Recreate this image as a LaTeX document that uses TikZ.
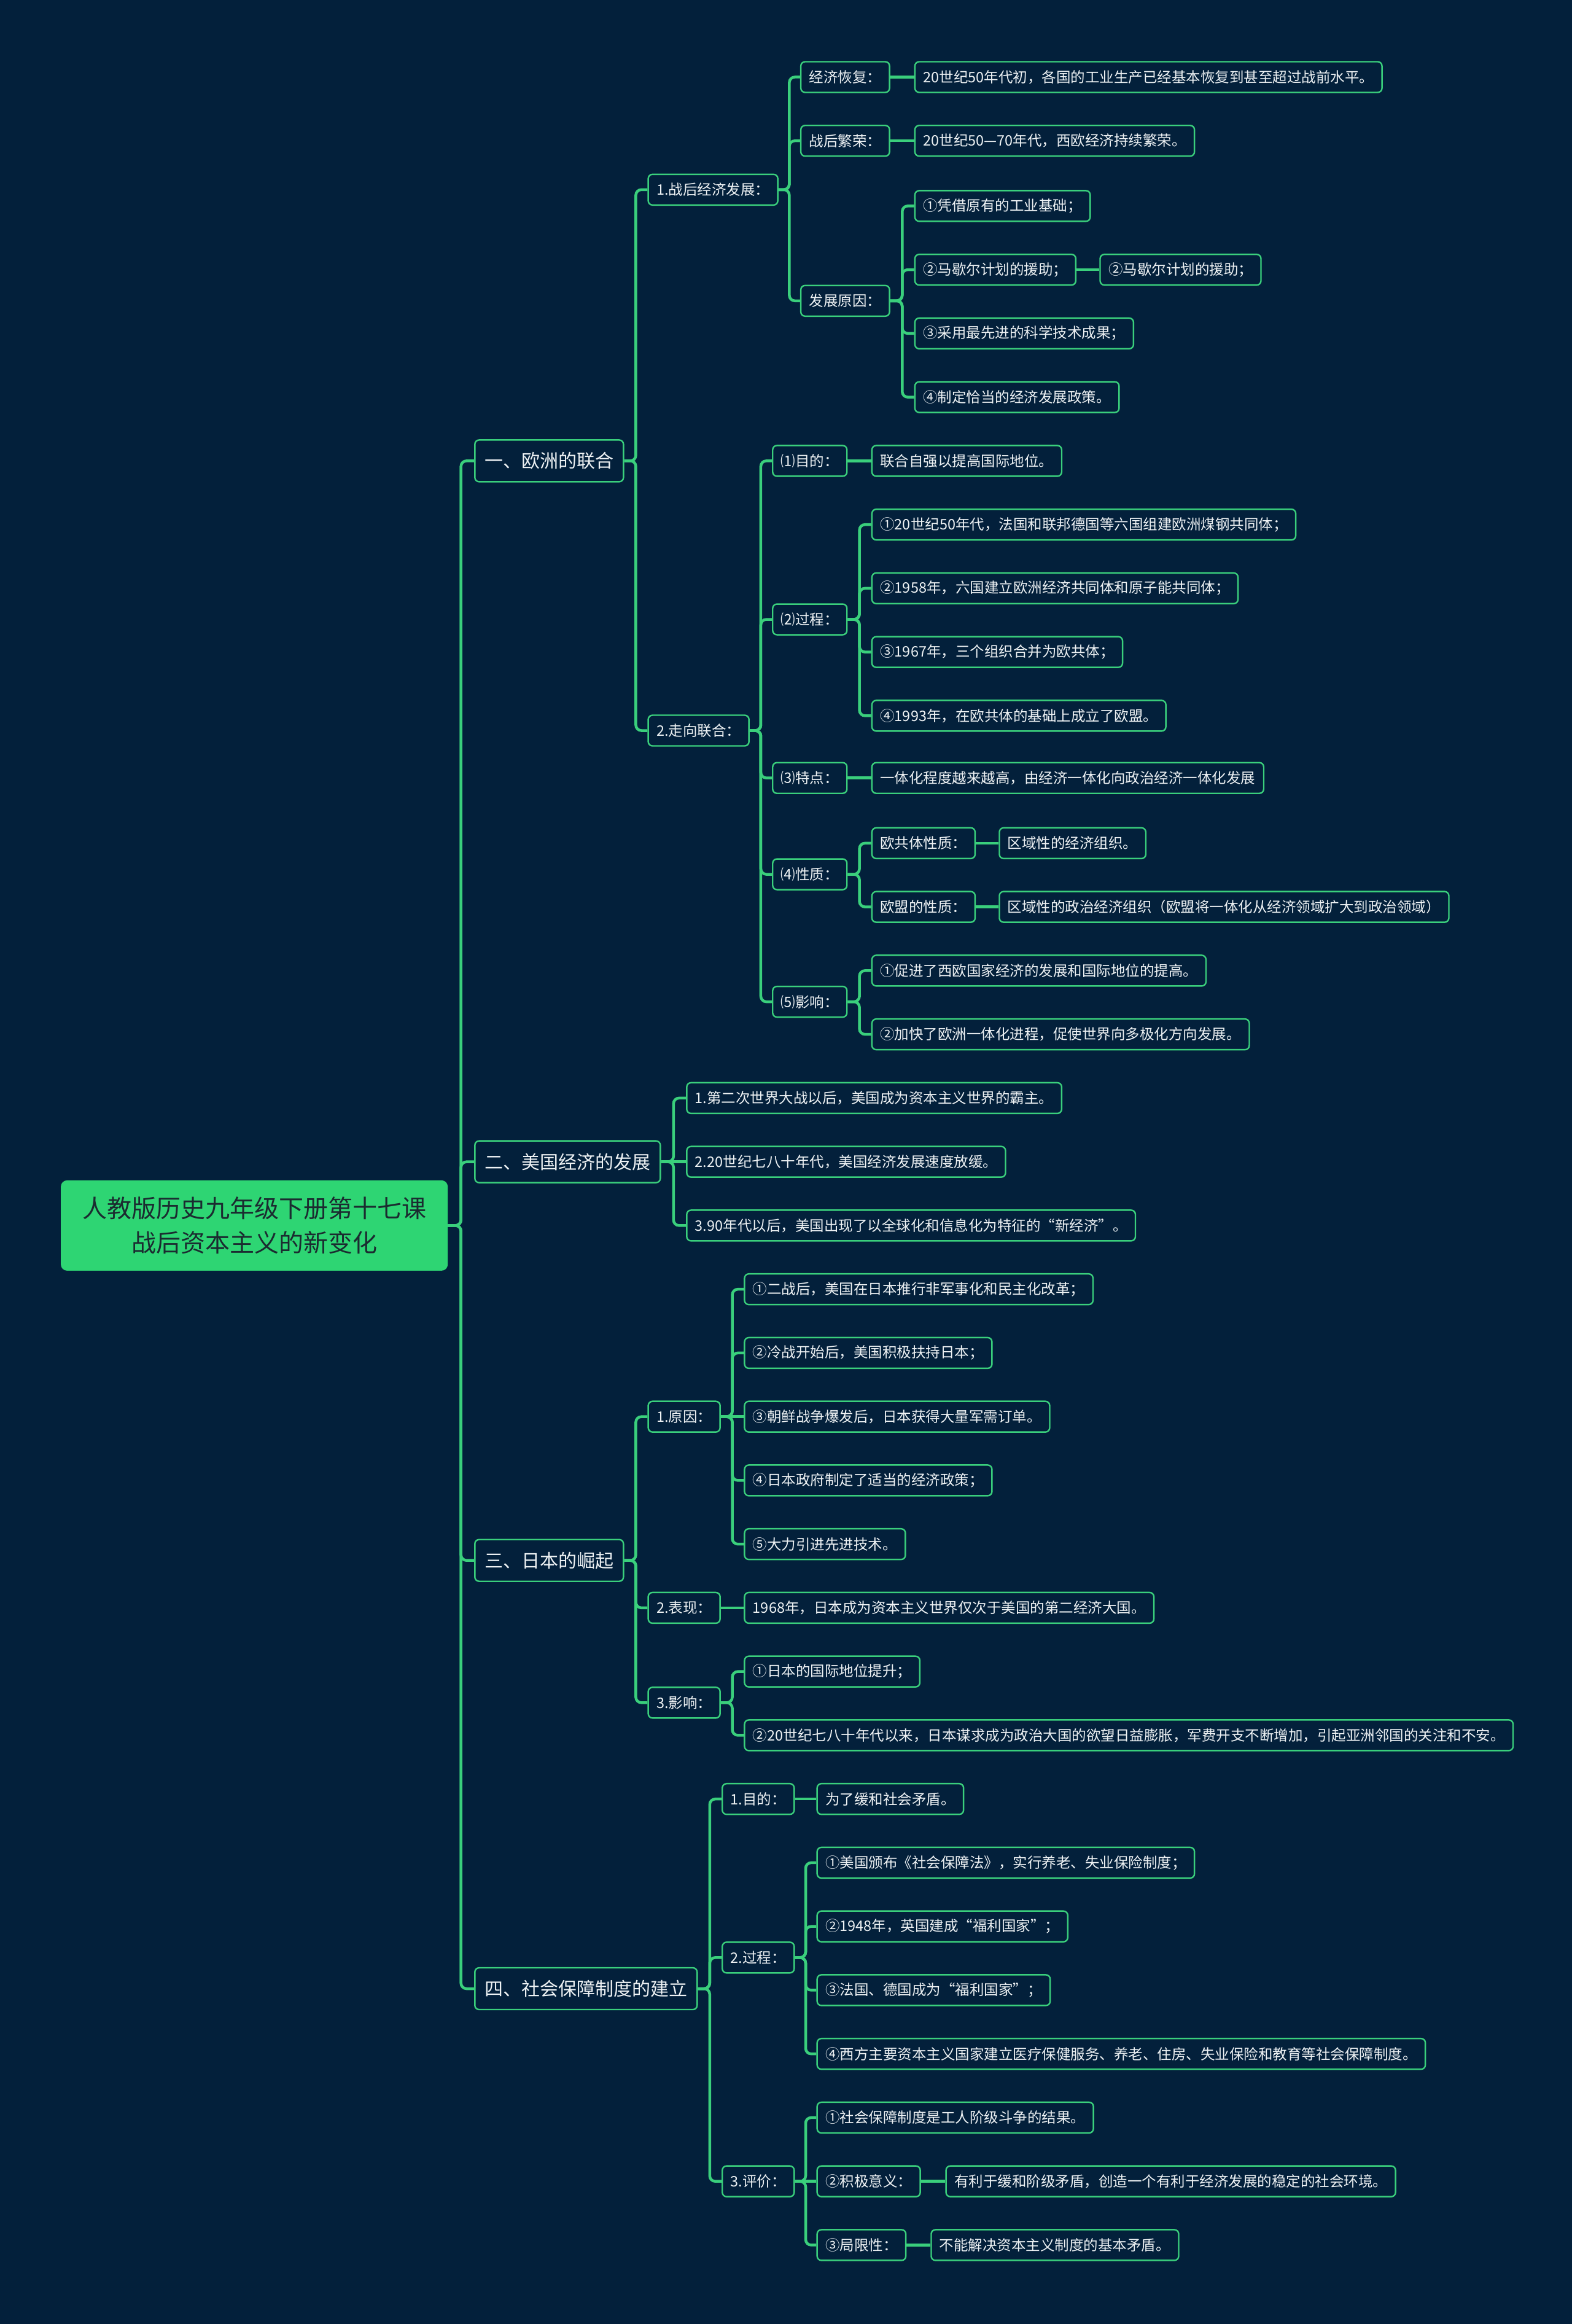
\documentclass[tikz,border=0pt]{standalone}
\usepackage{fontspec}
\setmainfont{Noto Sans CJK SC}
\usetikzlibrary{calc}
\definecolor{bg}{HTML}{03203B}
\definecolor{edge}{HTML}{3ACF7C}
\definecolor{rootg}{HTML}{2ED573}
\definecolor{roottxt}{HTML}{1B2B30}
\definecolor{txt}{HTML}{EEF2F4}
\tikzset{
  box/.style={draw=edge, line width=2.4pt, rounded corners=7pt, fill=bg, text=txt,
    font=\fontsize{23.5}{27}\selectfont, inner xsep=13.5pt, inner ysep=0pt,
    minimum height=50pt, anchor=west},
  lone/.style={box, font=\fontsize{30}{36}\selectfont, minimum height=68pt, inner xsep=16pt},
  rootbox/.style={fill=rootg, draw=none, rounded corners=10pt, text=roottxt,
    font=\fontsize{40}{56}\selectfont, minimum width=630pt, minimum height=147pt,
    align=center, anchor=west},
  conn/.style={draw=edge, line width=4.5pt, rounded corners=9pt}
}
\newcommand\lnk[2]{\draw[conn] (#1.east) -- ($(#1.east)!0.5!(#1.east -| #2.west)$) |- (#2.west);}
\newcommand\slnk[2]{\draw[conn] (#1.east) -- (#2.west);}
\begin{document}
\begin{tikzpicture}[x=2.4128pt,y=-2.4128pt]
\fill[bg] (0,0) rectangle (1061.0,1568.3);
\useasboundingbox (0,0) rectangle (1061.0,1568.3);

% root and level 1
\node[rootbox] (r) at (41,827) {人教版历史九年级下册第十七课\\战后资本主义的新变化};
\node[lone] (a) at (320,311) {一、欧洲的联合};
\node[lone] (b) at (320,784) {二、美国经济的发展};
\node[lone] (c) at (320,1053) {三、日本的崛起};
\node[lone] (d) at (320,1342) {四、社会保障制度的建立};

% branch a
\node[box] (a1) at (437,128) {1.战后经济发展：};
\node[box] (a11) at (540,52) {经济恢复：};
\node[box] (a11t) at (617,52) {20世纪50年代初，各国的工业生产已经基本恢复到甚至超过战前水平。};
\node[box] (a12) at (540,95) {战后繁荣：};
\node[box] (a12t) at (617,95) {20世纪50—70年代，西欧经济持续繁荣。};
\node[box] (a13) at (540,203) {发展原因：};
\node[box] (a131) at (617,139) {①凭借原有的工业基础；};
\node[box] (a132) at (617,182) {②马歇尔计划的援助；};
\node[box] (a1321) at (742,182) {②马歇尔计划的援助；};
\node[box] (a133) at (617,225) {③采用最先进的科学技术成果；};
\node[box] (a134) at (617,268) {④制定恰当的经济发展政策。};

\node[box] (a2) at (437,493) {2.走向联合：};
\node[box] (a21) at (521,311) {⑴目的：};
\node[box] (a21t) at (588,311) {联合自强以提高国际地位。};
\node[box] (a22) at (521,418) {⑵过程：};
\node[box] (a221) at (588,354) {①20世纪50年代，法国和联邦德国等六国组建欧洲煤钢共同体；};
\node[box] (a222) at (588,397) {②1958年，六国建立欧洲经济共同体和原子能共同体；};
\node[box] (a223) at (588,440) {③1967年，三个组织合并为欧共体；};
\node[box] (a224) at (588,483) {④1993年，在欧共体的基础上成立了欧盟。};
\node[box] (a23) at (521,525) {⑶特点：};
\node[box] (a23t) at (588,525) {一体化程度越来越高，由经济一体化向政治经济一体化发展};
\node[box] (a24) at (521,590) {⑷性质：};
\node[box] (a241) at (588,569) {欧共体性质：};
\node[box] (a241t) at (674,569) {区域性的经济组织。};
\node[box] (a242) at (588,612) {欧盟的性质：};
\node[box] (a242t) at (674,612) {区域性的政治经济组织（欧盟将一体化从经济领域扩大到政治领域）};
\node[box] (a25) at (521,676) {⑸影响：};
\node[box] (a251) at (588,655) {①促进了西欧国家经济的发展和国际地位的提高。};
\node[box] (a252) at (588,698) {②加快了欧洲一体化进程，促使世界向多极化方向发展。};

% branch b
\node[box] (b1) at (463,741) {1.第二次世界大战以后，美国成为资本主义世界的霸主。};
\node[box] (b2) at (463,784) {2.20世纪七八十年代，美国经济发展速度放缓。};
\node[box] (b3) at (463,827) {3.90年代以后，美国出现了以全球化和信息化为特征的“新经济”。};

% branch c
\node[box] (c1) at (437,956) {1.原因：};
\node[box] (c11) at (502,870) {①二战后，美国在日本推行非军事化和民主化改革；};
\node[box] (c12) at (502,913) {②冷战开始后，美国积极扶持日本；};
\node[box] (c13) at (502,956) {③朝鲜战争爆发后，日本获得大量军需订单。};
\node[box] (c14) at (502,999) {④日本政府制定了适当的经济政策；};
\node[box] (c15) at (502,1042) {⑤大力引进先进技术。};
\node[box] (c2) at (437,1085) {2.表现：};
\node[box] (c2t) at (502,1085) {1968年，日本成为资本主义世界仅次于美国的第二经济大国。};
\node[box] (c3) at (437,1149) {3.影响：};
\node[box] (c31) at (502,1128) {①日本的国际地位提升；};
\node[box] (c32) at (502,1171) {②20世纪七八十年代以来，日本谋求成为政治大国的欲望日益膨胀，军费开支不断增加，引起亚洲邻国的关注和不安。};

% branch d
\node[box] (d1) at (487,1214) {1.目的：};
\node[box] (d1t) at (551,1214) {为了缓和社会矛盾。};
\node[box] (d2) at (487,1321) {2.过程：};
\node[box] (d21) at (551,1257) {①美国颁布《社会保障法》，实行养老、失业保险制度；};
\node[box] (d22) at (551,1300) {②1948年，英国建成“福利国家”；};
\node[box] (d23) at (551,1343) {③法国、德国成为“福利国家”；};
\node[box] (d24) at (551,1386) {④西方主要资本主义国家建立医疗保健服务、养老、住房、失业保险和教育等社会保障制度。};
\node[box] (d3) at (487,1472) {3.评价：};
\node[box] (d31) at (551,1429) {①社会保障制度是工人阶级斗争的结果。};
\node[box] (d32) at (551,1472) {②积极意义：};
\node[box] (d32t) at (638,1472) {有利于缓和阶级矛盾，创造一个有利于经济发展的稳定的社会环境。};
\node[box] (d33) at (551,1515) {③局限性：};
\node[box] (d33t) at (628,1515) {不能解决资本主义制度的基本矛盾。};

% connectors
\lnk{r}{a}\lnk{r}{b}\lnk{r}{c}\lnk{r}{d}
\lnk{a}{a1}\lnk{a}{a2}
\lnk{a1}{a11}\lnk{a1}{a12}\lnk{a1}{a13}
\slnk{a11}{a11t}\slnk{a12}{a12t}
\lnk{a13}{a131}\lnk{a13}{a132}\lnk{a13}{a133}\lnk{a13}{a134}
\slnk{a132}{a1321}
\lnk{a2}{a21}\lnk{a2}{a22}\lnk{a2}{a23}\lnk{a2}{a24}\lnk{a2}{a25}
\slnk{a21}{a21t}\slnk{a23}{a23t}
\lnk{a22}{a221}\lnk{a22}{a222}\lnk{a22}{a223}\lnk{a22}{a224}
\lnk{a24}{a241}\lnk{a24}{a242}
\slnk{a241}{a241t}\slnk{a242}{a242t}
\lnk{a25}{a251}\lnk{a25}{a252}
\lnk{b}{b1}\slnk{b}{b2}\lnk{b}{b3}
\lnk{c}{c1}\lnk{c}{c2}\lnk{c}{c3}
\lnk{c1}{c11}\lnk{c1}{c12}\slnk{c1}{c13}\lnk{c1}{c14}\lnk{c1}{c15}
\slnk{c2}{c2t}
\lnk{c3}{c31}\lnk{c3}{c32}
\lnk{d}{d1}\lnk{d}{d2}\lnk{d}{d3}
\slnk{d1}{d1t}
\lnk{d2}{d21}\lnk{d2}{d22}\lnk{d2}{d23}\lnk{d2}{d24}
\lnk{d3}{d31}\slnk{d3}{d32}\lnk{d3}{d33}
\slnk{d32}{d32t}\slnk{d33}{d33t}
\end{tikzpicture}
\end{document}
